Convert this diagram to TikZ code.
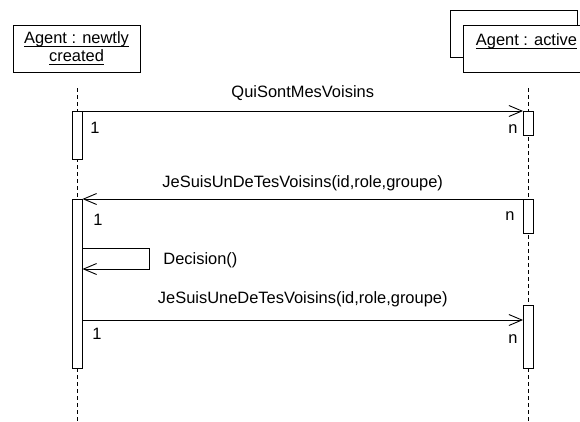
\documentclass[tikz,border=0pt]{standalone}
\usepackage{amsmath}
\usepackage{fontspec}
\setmainfont{Liberation Sans}
\usetikzlibrary{arrows.meta}

\begin{document}
\begin{tikzpicture}[x=1bp,y=-1bp,line width=0.9bp,
  >={Straight Barb[length=13bp,width=11bp]},
  obj/.style={draw,fill=white,minimum width=127bp,minimum height=47bp,inner sep=0pt,align=center,font=\fontsize{16.5}{18}\selectfont},
  act/.style={draw,fill=white,minimum width=10bp,inner sep=0pt,anchor=north},
  life/.style={dash pattern=on 4bp off 3bp},
  lbl/.style={font=\fontsize{16.5}{18}\selectfont,inner sep=0pt}]
\useasboundingbox (0,0) rectangle (580,421);
\clip (0,0) rectangle (580,421);
\node[obj] (p) at (76.5,48.5) {\underline{\smash[b]{Agent : newtly}}\\\underline{\smash[b]{created}}};
\node[obj] (qb) at (513.5,34) {};
\node[obj] (q) at (526.5,48.5) {\underline{\smash[b]{Agent : active}}\\\mbox{}};
\coordinate (pt) at (77,88);
\coordinate (pb) at (77,421);
\coordinate (qt) at (528.5,88);
\coordinate (qe) at (528.5,421);
\draw[life] (pt) -- (pb);
\draw[life] (qt) -- (qe);
\node[act,minimum height=48bp] (a1) at (77,111) {};
\node[act,minimum height=24bp] (b1) at (528.5,111) {};
\node[act,minimum height=169bp] (a2) at (77,199) {};
\node[act,minimum height=34bp] (b2) at (528.5,199) {};
\node[act,minimum height=63bp] (b3) at (528.5,305) {};
\draw[->] (a1.north east) -- node[lbl,anchor=base,yshift=14bp] (m1) {QuiSontMesVoisins} (b1.north west);
\draw[->] (b2.north west) -- node[lbl,anchor=base,yshift=12bp] (m2) {JeSuisUnDeTesVoisins(id,role,groupe)} (a2.north east);
\coordinate (d1) at (149,248);
\coordinate (d2) at (149,269);
\draw[->] (d1 -| a2.east) -- (d1) -- (d2) -- (d2 -| a2.east);
\node[lbl,anchor=base west] (m4) at (163,264) {Decision()};
\coordinate (c3) at (77,320);
\draw[->] (c3 -| a2.east) -- node[lbl,anchor=base,yshift=17bp] (m3) {JeSuisUneDeTesVoisins(id,role,groupe)} (c3 -| b3.west);
\node[lbl,anchor=base west] (k1) at (90,133) {1};
\node[lbl,anchor=base east] (n1) at (518,133) {n};
\node[lbl,anchor=base west] (k2) at (93,225) {1};
\node[lbl,anchor=base east] (n2) at (515,220) {n};
\node[lbl,anchor=base west] (k3) at (92,339) {1};
\node[lbl,anchor=base east] (n3) at (518,343) {n};
\end{tikzpicture}
\end{document}
